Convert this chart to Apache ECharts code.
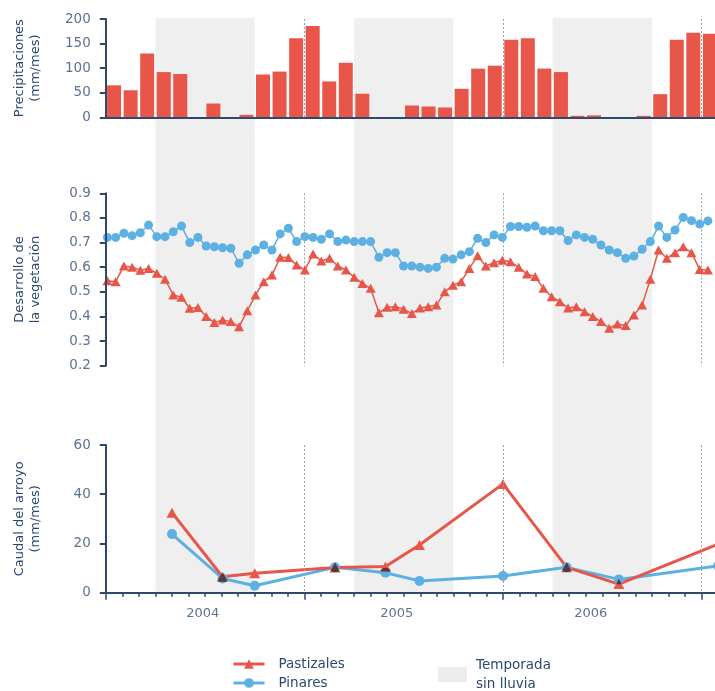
<!DOCTYPE html>
<html>
<head>
<meta charset="utf-8">
<script src="https://cdn.jsdelivr.net/npm/echarts@6/dist/echarts.min.js"></script>
<style>
  html, body { margin: 0; padding: 0; background: #ffffff; }
  #chart { width: 715px; height: 691px; }
</style>
</head>
<body>
<div id="chart"></div>
<script>
// ---- Data -------------------------------------------------------------
// Monthly precipitation (mm/mes), one value per month from month 0
const precipitation = [65, 55, 130, 92, 88, 0, 28, 0, 5, 87, 93, 161,
                       186, 73, 111, 48, 0, 0, 24, 22, 20, 58, 99, 105,
                       158, 161, 99, 92, 3, 4, 0, 0, 3, 47, 158, 172, 170];

// Vegetation index, sampled twice a month (time in months)
const vegStart = 0.1;
const vegStep = 0.497;
const vegPastizales = [0.545, 0.541, 0.605, 0.600, 0.588, 0.595, 0.575, 0.551, 0.487, 0.478,
                       0.433, 0.436, 0.400, 0.375, 0.386, 0.379, 0.358, 0.423, 0.487, 0.541,
                       0.568, 0.640, 0.639, 0.609, 0.589, 0.654, 0.625, 0.636, 0.605, 0.589,
                       0.559, 0.534, 0.514, 0.415, 0.437, 0.439, 0.429, 0.412, 0.434, 0.439,
                       0.446, 0.500, 0.527, 0.541, 0.595, 0.646, 0.605, 0.618, 0.628, 0.622,
                       0.600, 0.572, 0.562, 0.514, 0.480, 0.460, 0.434, 0.439, 0.419, 0.400,
                       0.379, 0.352, 0.369, 0.363, 0.406, 0.446, 0.551, 0.670, 0.636, 0.659,
                       0.683, 0.659, 0.591, 0.589];
const vegPinares = [0.721, 0.721, 0.738, 0.728, 0.740, 0.771, 0.724, 0.724, 0.744, 0.767,
                    0.700, 0.721, 0.686, 0.683, 0.679, 0.677, 0.616, 0.650, 0.670, 0.690,
                    0.670, 0.735, 0.758, 0.704, 0.724, 0.721, 0.713, 0.735, 0.704, 0.710,
                    0.704, 0.704, 0.704, 0.640, 0.659, 0.659, 0.605, 0.605, 0.600, 0.595,
                    0.600, 0.636, 0.633, 0.650, 0.663, 0.717, 0.700, 0.731, 0.721, 0.765,
                    0.765, 0.762, 0.767, 0.748, 0.748, 0.748, 0.708, 0.731, 0.721, 0.713,
                    0.690, 0.670, 0.659, 0.636, 0.645, 0.673, 0.704, 0.767, 0.721, 0.751,
                    0.802, 0.789, 0.775, 0.788];

// Stream discharge (mm/mes): sampling month and value
const caudalMonthsPastizales = [4, 7.05, 9, 13.85, 16.9, 18.95, 24, 27.85, 31, 38];
const caudalPastizales       = [32.5, 6.5, 7.9, 10.2, 10.6, 19.4, 44.2, 10.3, 3.5, 22.5];
const caudalMonthsPinares    = [4, 7.05, 9, 13.85, 16.9, 18.95, 24, 27.85, 31, 37];
const caudalPinares          = [23.8, 5.8, 2.8, 10.3, 8.1, 4.8, 6.8, 10.3, 5.4, 10.9];

// Dry seasons (start month, end month)
const dryBands = [[3, 9], [15, 21], [27, 33]];

// Year labels and where they sit on the month scale
const yearLabels = ['2004', '2005', '2006'];
const yearLabelMonths = [5.86, 17.58, 29.3];
const yearLabelStep = 5.86;

// ---- Style ------------------------------------------------------------
const RED = '#e8564a';
const BLUE = '#5cb0e2';
const OVERLAP = '#543b42';   // red over blue, multiplied
const NAVY = '#2e4a6b';
const LABEL = '#5d7390';
const TITLE = '#2b4a6f';
const BAND = '#efefef';
const FONT = 'DejaVu Sans';

const MONTHS = 37;
const X0 = 105.8;
const MONTH_PX = 16.55;
const PLOT_W = MONTHS * MONTH_PX;

const CIRCLE_R = 5;
const TRI_W = 11, TRI_H = 10;

const dashed = { show: true, lineStyle: { color: '#9aa0a6', width: 1, type: [2, 2] } };

function yAxisOf(grid, opts) {
  return Object.assign({
    type: 'value', gridIndex: grid, z: 5,
    axisLine: { show: true, lineStyle: { color: NAVY, width: 2 } },
    axisTick: { show: true, length: 6, lineStyle: { color: NAVY, width: 2 } },
    axisLabel: { color: LABEL, fontSize: 13.5, fontFamily: FONT, margin: 15 },
    splitLine: { show: false },
    nameLocation: 'middle', nameRotate: 90, nameGap: 62,
    nameTextStyle: { color: TITLE, fontSize: 13, fontFamily: FONT, lineHeight: 16 }
  }, opts);
}

function monthAxis(grid, opts) {
  return Object.assign({
    type: 'value', gridIndex: grid, min: 0, max: MONTHS, position: 'bottom',
    axisLine: { show: false }, axisTick: { show: false },
    axisLabel: { show: false }, splitLine: { show: false }
  }, opts);
}

const chart = echarts.init(document.getElementById('chart'), null, { renderer: 'canvas' });

chart.setOption({
  animation: false,
  backgroundColor: '#ffffff',
  textStyle: { fontFamily: FONT },
  grid: [
    { left: X0, top: 18, width: PLOT_W, height: 575, outerBoundsMode: 'none' },
    { left: X0, top: 19, width: PLOT_W, height: 98.3, outerBoundsMode: 'none' },
    { left: X0, top: 193.3, width: PLOT_W, height: 172.4, outerBoundsMode: 'none' },
    { left: X0, top: 445, width: PLOT_W, height: 147.7, outerBoundsMode: 'none' }
  ],
  xAxis: [
    monthAxis(0, { show: false }),
    monthAxis(1, { interval: 12, z: 5,
      axisLine: { show: true, onZero: false, lineStyle: { color: NAVY, width: 2 } },
      splitLine: dashed }),
    monthAxis(2, { interval: 12, splitLine: dashed }),
    monthAxis(3, { interval: 1, z: 5,
      axisLine: { show: true, onZero: false, lineStyle: { color: NAVY, width: 2 } },
      axisTick: { show: true, length: 4, lineStyle: { color: NAVY, width: 1.5 } } }),
    monthAxis(3, { interval: 12, z: 5,
      axisTick: { show: true, length: 7, lineStyle: { color: NAVY, width: 1.5 } },
      splitLine: dashed }),
    monthAxis(3, { interval: yearLabelStep,
      axisLabel: {
        show: true, color: LABEL, fontSize: 13, fontFamily: FONT, margin: 14,
        formatter: function (v) {
          const k = yearLabelMonths.findIndex(m => Math.abs(m - v) < 0.05);
          return k >= 0 ? yearLabels[k] : '';
        }
      }
    })
  ],
  yAxis: [
    { type: 'value', gridIndex: 0, min: 0, max: 1, show: false },
    yAxisOf(1, { min: 0, max: 200, interval: 50, name: 'Precipitaciones\n(mm/mes)' }),
    yAxisOf(2, { min: 0.2, max: 0.9, interval: 0.1, name: 'Desarrollo de\nla vegetación' }),
    yAxisOf(3, { min: 0, max: 60, interval: 20, name: 'Caudal del arroyo\n(mm/mes)' })
  ],
  legend: [
    {
      data: ['Pastizales', 'Pinares'], orient: 'vertical',
      left: 232, top: 656, padding: 0,
      itemWidth: 31, itemHeight: 12, itemGap: 3,
      selectedMode: false,
      lineStyle: { width: 3 },
      textStyle: { color: TITLE, fontSize: 13.5, fontFamily: FONT, lineHeight: 16, padding: [0, 0, 0, 9] }
    },
    {
      data: [{ name: 'Temporada sin lluvia', icon: 'rect', itemStyle: { color: '#ececec' } }],
      left: 438, top: 655.5, padding: 0,
      itemWidth: 29, itemHeight: 15,
      selectedMode: false,
      formatter: () => 'Temporada\nsin lluvia',
      textStyle: { color: TITLE, fontSize: 13.5, fontFamily: FONT, lineHeight: 19, padding: [0, 0, 0, 4] }
    }
  ],
  series: [
    {
      name: 'Temporada sin lluvia', type: 'line', xAxisIndex: 0, yAxisIndex: 0, z: 1,
      data: [[0, -1]], symbol: 'none', silent: true,
      itemStyle: { color: BAND }, lineStyle: { opacity: 0 },
      markArea: {
        silent: true,
        itemStyle: { color: BAND },
        data: dryBands.map(b => [{ xAxis: b[0] }, { xAxis: b[1] }])
      }
    },
    {
      name: 'Precipitaciones', type: 'bar', xAxisIndex: 1, yAxisIndex: 1,
      barWidth: 14,
      data: precipitation.map((v, i) => [i + 0.5, v]),
      itemStyle: { color: RED }
    },
    {
      name: 'Pastizales', type: 'line', xAxisIndex: 2, yAxisIndex: 2,
      data: vegPastizales.map((v, i) => [vegStart + i * vegStep, v]),
      symbol: 'triangle', symbolSize: [10, 9], showAllSymbol: true,
      lineStyle: { color: RED, width: 1.5 }, itemStyle: { color: RED }
    },
    {
      name: 'Pinares', type: 'line', xAxisIndex: 2, yAxisIndex: 2,
      data: vegPinares.map((v, i) => [vegStart + i * vegStep, v]),
      symbol: 'circle', symbolSize: 9, showAllSymbol: true,
      lineStyle: { color: BLUE, width: 1.5 }, itemStyle: { color: BLUE }
    },
    {
      name: 'Pinares', type: 'line', xAxisIndex: 3, yAxisIndex: 3,
      data: caudalPinares.map((v, i) => [caudalMonthsPinares[i], v]),
      symbol: 'circle', symbolSize: CIRCLE_R * 2, clip: true,
      lineStyle: { color: BLUE, width: 3 }, itemStyle: { color: BLUE }
    },
    {
      name: 'Pastizales', type: 'line', xAxisIndex: 3, yAxisIndex: 3,
      data: caudalPastizales.map((v, i) => [caudalMonthsPastizales[i], v]),
      symbol: 'none', clip: true,
      lineStyle: { color: RED, width: 3 }, itemStyle: { color: RED }
    },
    {
      // Grassland discharge markers; where a marker sits on the pine marker
      // of the same sample, the shared area is darkened like a multiply blend.
      id: 'caudal-pastizales-marcas', type: 'custom', xAxisIndex: 3, yAxisIndex: 3, z: 4,
      clip: true,
      data: caudalPastizales.map((v, i) => [caudalMonthsPastizales[i], v]),
      renderItem: function (params, api) {
        const i = params.dataIndex;
        const p = api.coord([api.value(0), api.value(1)]);
        const tri = [[p[0], p[1] - TRI_H / 2], [p[0] + TRI_W / 2, p[1] + TRI_H / 2], [p[0] - TRI_W / 2, p[1] + TRI_H / 2]];
        const children = [{ type: 'polygon', shape: { points: tri }, style: { fill: RED } }];
        if (caudalMonthsPinares[i] === caudalMonthsPastizales[i]) {
          const q = api.coord([caudalMonthsPinares[i], caudalPinares[i]]);
          children.push({
            type: 'polygon', shape: { points: tri }, style: { fill: OVERLAP },
            clipPath: { type: 'circle', shape: { cx: q[0], cy: q[1], r: CIRCLE_R } }
          });
        }
        return { type: 'group', children: children };
      }
    }
  ]
});
</script>
</body>
</html>
